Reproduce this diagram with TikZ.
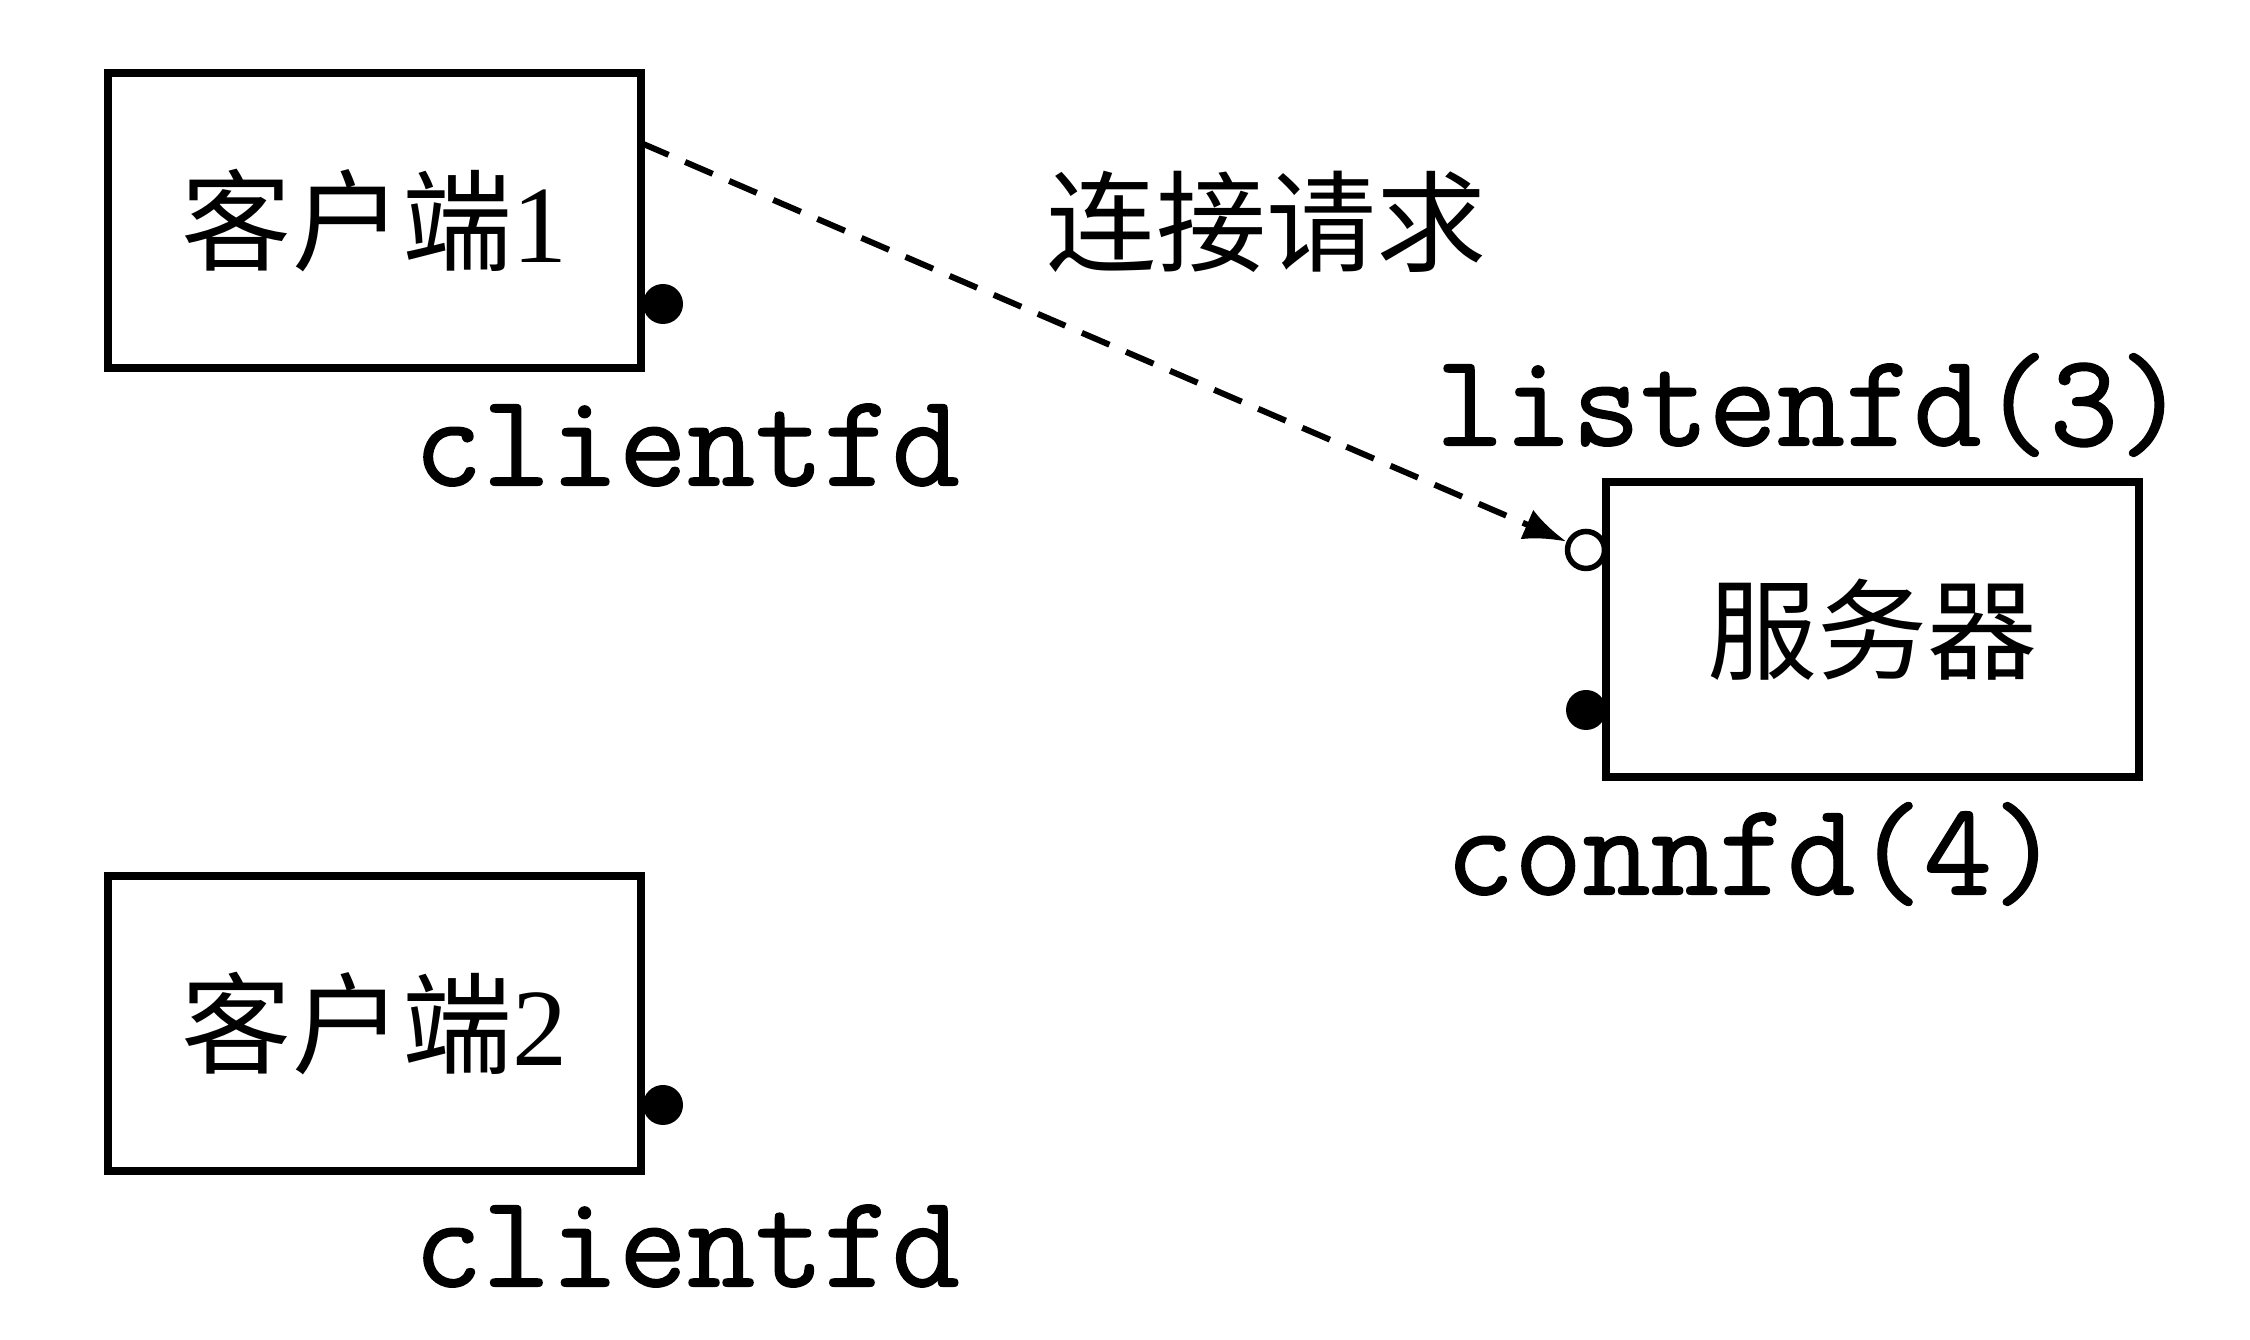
\documentclass[tikz,border=0pt]{standalone}
\usepackage{fontspec}
\setmainfont{Liberation Serif}
\newfontfamily\cjk{Noto Sans CJK SC}
\newfontfamily\codefont[FakeBold=1]{Latin Modern Mono}
\usetikzlibrary{arrows.meta}
\begin{document}
\begin{tikzpicture}[x=0.2pt,y=-0.2pt,
  box/.style={draw,line width=1.6pt,minimum width=106.6pt,minimum height=59pt,inner sep=0pt,font=\fontsize{22}{26}\selectfont},
  fdlabel/.style={font=\fontsize{26.5}{29}\selectfont\codefont,inner sep=0pt},
  cjklabel/.style={font=\fontsize{22}{26}\selectfont\cjk,inner sep=0pt},
  sock/.style={circle,fill=black,inner sep=0pt,minimum size=8pt},
  lsock/.style={circle,draw,fill=white,line width=1.1pt,inner sep=0pt,minimum size=7.4pt},
  req/.style={dash pattern=on 6pt off 3.6pt,line width=1.2pt,-{Latex[length=8.6pt,width=6.4pt]}}
  ]
\useasboundingbox (0,0) rectangle (2250,1340);
% clients and server
\node[box] (c1) at (374.5,221) {{\cjk 客户端}1};
\node[box] (c2) at (374.5,1024) {{\cjk 客户端}2};
\node[box] (srv) at (1872.5,629.5) {{\cjk 服务器}};
% sockets
\node[sock] (c1fd) at (663,304) {};
\node[sock] (c2fd) at (663,1105) {};
\node[lsock] (lfd) at (1586,550) {};
\node[sock] (cfd) at (1586,710) {};
% labels
\node[fdlabel] (c1lab) at (687,445) {clientfd};
\node[fdlabel] (c2lab) at (687,1246) {clientfd};
\node[fdlabel] (llab) at (1811,405) {listenfd(3)};
\node[fdlabel] (clab) at (1753,854) {connfd(4)};
\node[cjklabel] (reqlab) at (1266,222) {连接请求};
% connection request
\coordinate (c1out) at (641,143);
\draw[req] (c1out) -- (lfd);
\end{tikzpicture}
\end{document}
